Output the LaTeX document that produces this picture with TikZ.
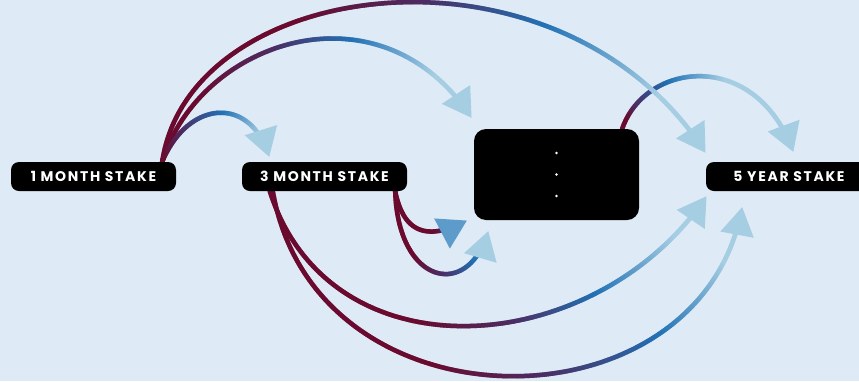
\documentclass[tikz,border=0pt]{standalone}
\usepackage{fontspec}
\newfontfamily\popfont[LetterSpace=12]{Poppins}
\usetikzlibrary{decorations.markings,calc}
\definecolor{bgc}{RGB}{222,234,246}
\definecolor{cA}{HTML}{6A0A2E}
\definecolor{cB}{HTML}{4B2D63}
\definecolor{cC}{HTML}{2272B5}
\definecolor{cD}{HTML}{A6CEE3}
\colorlet{gc}{cA}
\def\gradpick#1#2#3#4{%
 \pgfmathsetmacro\gf{\pgfkeysvalueof{/pgf/decoration/mark info/distance from start}/\pgfdecoratedpathlength}%
 \ifdim\gf pt<#1pt \colorlet{gc}{cA}%
 \else\ifdim\gf pt<#2pt \pgfmathsetmacro\gp{100*(\gf-#1)/(#2-#1)}\colorlet{gc}{cB!\gp!cA}%
 \else\ifdim\gf pt<#3pt \pgfmathsetmacro\gp{100*(\gf-#2)/(#3-#2)}\colorlet{gc}{cC!\gp!cB}%
 \else\ifdim\gf pt<#4pt \pgfmathsetmacro\gp{100*(\gf-#3)/(#4-#3)}\colorlet{gc}{cD!\gp!cC}%
 \else \colorlet{gc}{cD}\fi\fi\fi\fi}
\pgfdeclarelayer{bglayer}
\pgfdeclarelayer{linelayer}
\pgfsetlayers{bglayer,linelayer,main}
\tikzset{
 stake/.style={fill=black, rounded corners=8pt, text=white, font=\popfont\bfseries\fontsize{14}{16}\selectfont, minimum width=165pt, minimum height=29pt, inner sep=0pt},
 blackbox/.style={fill=black, rounded corners=12pt, minimum width=165pt, minimum height=91pt, inner sep=0pt},
 gline/.style n args={4}{postaction={decorate, decoration={markings, mark=between positions 0 and -14pt step 1pt with {\gradpick{#1}{#2}{#3}{#4}\draw[draw=gc, line width=4.5pt] (-0.8pt,0)--(0.8pt,0);}}}},
 gtip/.style={postaction={decorate, decoration={markings, mark=at position -0.1pt with {\fill[#1] (1pt,0)--(-27pt,17pt)--(-27pt,-17pt)--cycle;}}}}
}
\begin{document}
\begin{tikzpicture}[x=1pt,y=-1pt]
\begin{pgfonlayer}{bglayer}
\fill[bgc] (0,0) rectangle (859,381);
\end{pgfonlayer}
\useasboundingbox (0,0) rectangle (859,381);
\clip (0,0) rectangle (859,381);
\node[stake] (m1) at (93.5,176.5) {1 MONTH STAKE};
\node[stake] (m3) at (324.5,176.5) {3 MONTH STAKE};
\node[blackbox] (bx) at (556.5,174.5) {};
\node[stake, minimum width=166pt] (y5) at (789,176.5) {5 YEAR STAKE};
\fill[white] (bx.center) circle (1.4pt);
\fill[white] ([yshift=21.5pt]bx.center) circle (1.4pt);
\fill[white] ([yshift=-21.5pt]bx.center) circle (1.4pt);
\coordinate (t1) at (269,156);
\coordinate (t2) at (471,117);
\coordinate (t3) at (705,152);
\coordinate (t4) at (793,151);
\coordinate (t5) at (466,221);
\coordinate (t6) at (488,232);
\coordinate (t7) at (706,197);
\coordinate (t8) at (742,208);
\begin{pgfonlayer}{linelayer}
\path[gline={0.05}{0.12}{0.3}{0.55}, gtip=cD] ([xshift=-17pt]bx.north east) .. controls (645,62) and (755,48) .. (t4);
\path[gline={0.3}{0.5}{0.68}{0.88}, gtip=cD] ([xshift=-14pt]m1.north east) .. controls (190,-25) and (560,-72) .. (t3);
\path[gline={0.18}{0.42}{0.62}{0.85}, gtip=cD] ([xshift=-14pt]m1.north east) .. controls (200,40) and (380,-20) .. (t2);
\path[gline={0.01}{0.25}{0.55}{0.85}, gtip=cD] ([xshift=-14pt]m1.north east) .. controls (188,100) and (250,95) .. (t1);
\path[gline={0.65}{0.8}{0.95}{1.3}, gtip={cC!55!cD}] ([xshift=-12pt]m3.south east) .. controls (402,225) and (420,245) .. (t5);
\path[gline={0.4}{0.6}{0.82}{1.05}, gtip=cD] ([xshift=-12pt]m3.south east) .. controls (398,285) and (468,300) .. (t6);
\path[gline={0.38}{0.56}{0.72}{0.9}, gtip=cD] ([xshift=28pt]m3.south west) .. controls (330,380) and (595,360) .. (t7);
\path[gline={0.38}{0.56}{0.75}{0.9}, gtip=cD] ([xshift=31pt]m3.south west) .. controls (315,435) and (700,435) .. (t8);
\end{pgfonlayer}
\end{tikzpicture}
\end{document}
